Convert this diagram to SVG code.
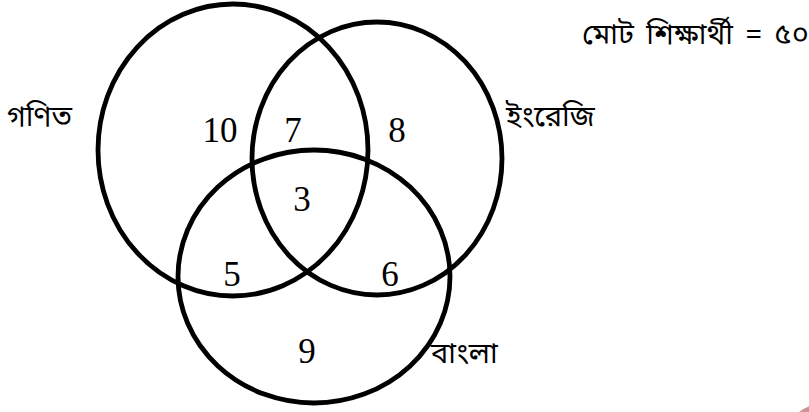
<svg xmlns="http://www.w3.org/2000/svg" width="809" height="412" viewBox="0 0 809 412">
<style>
.set{fill:none;stroke:#000;stroke-width:4.8}
.num{font-family:"Liberation Serif","Times New Roman",serif;font-size:35px;fill:#000;text-anchor:middle}
.bn{font-family:"Noto Sans Bengali","Noto Serif Bengali","Lohit Bengali","FreeSerif","Noto Sans",sans-serif;font-size:29px;fill:#000}
</style>
<rect width="809" height="412" fill="#fff"/>
<g id="connectors"></g>
<g id="math"><ellipse class="set" cx="233" cy="150" rx="135" ry="146"/><text class="bn" x="7" y="126">গণিত</text></g>
<g id="english"><ellipse class="set" cx="377" cy="158.5" rx="125" ry="136.5"/><text class="bn" x="506" y="126">ইংরেজি</text></g>
<g id="bangla"><ellipse class="set" cx="314" cy="276.5" rx="136" ry="126.5"/><text class="bn" x="431" y="363" font-size="27">বাংলা</text></g>
<g id="counts">
<text class="num" x="220" y="142">10</text>
<text class="num" x="293" y="142">7</text>
<text class="num" x="397" y="142">8</text>
<text class="num" x="302" y="211">3</text>
<text class="num" x="232" y="286">5</text>
<text class="num" x="390" y="286">6</text>
<text class="num" x="307" y="363">9</text>
</g>
<g id="total"><text class="bn" x="582" y="44" word-spacing="5">মোট শিক্ষার্থী = ৫০</text></g>
<circle cx="825" cy="445" r="42" fill="#c99494"/>
</svg>
